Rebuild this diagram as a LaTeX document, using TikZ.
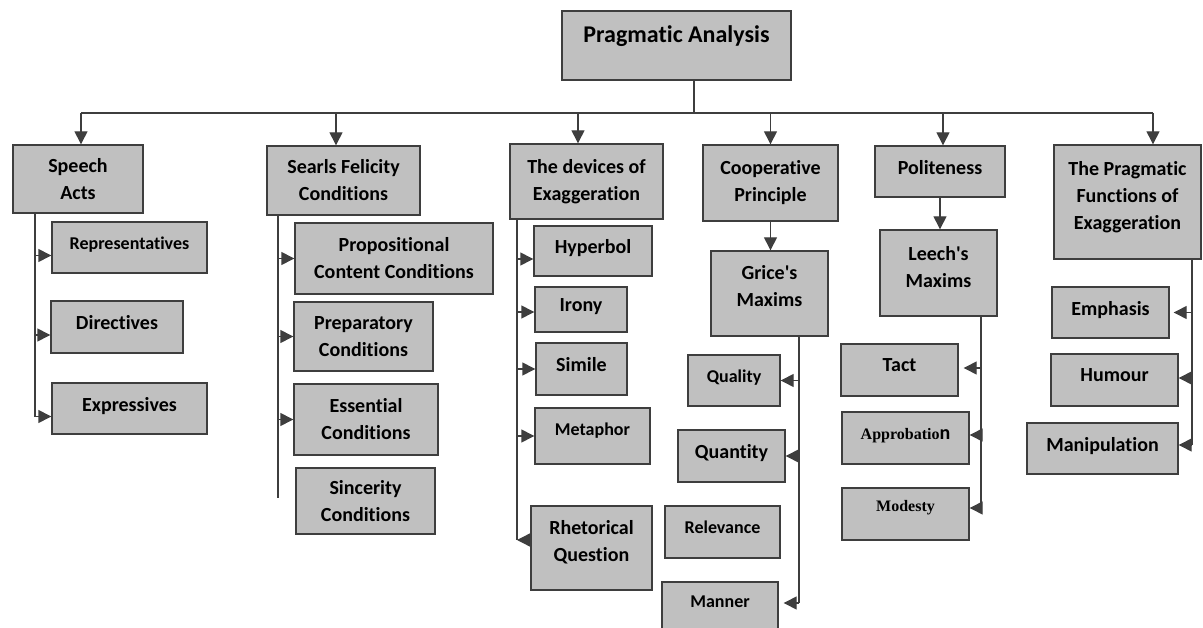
\documentclass[tikz,border=0pt]{standalone}
\usepackage{fontspec}
\setmainfont{Carlito}[Ligatures={TeXOff,NoCommon}]
\newfontfamily\serifbf{Liberation Serif}
\usetikzlibrary{arrows.meta}
\definecolor{boxgray}{RGB}{192,192,192}
\definecolor{linegray}{RGB}{62,62,62}

\begin{document}
\begin{tikzpicture}[x=1pt,y=-1pt,
    box/.style={draw=linegray, fill=boxgray, line width=1.4pt, align=center, inner sep=2pt,
      font=\bfseries\fontsize{20}{27}\selectfont},
    leaf/.style={box, text depth=9pt},
    small/.style={font=\bfseries\fontsize{18}{24}\selectfont},
    conn/.style={draw=linegray, line width=1.4pt},
    arr/.style={conn, -{Triangle[length=13pt,width=13pt]}}
  ]
  \useasboundingbox (0,0) rectangle (1203,628);

  % top
  \node[box, minimum width=229, minimum height=69, text depth=22pt,
    font=\bfseries\fontsize{24}{30}\selectfont] (root) at (676.5,45.5) {Pragmatic Analysis};

  % six branches
  \node[box, minimum width=130, minimum height=68] (sa) at (78,179) {Speech\\Acts};
  \node[box, minimum width=153, minimum height=69] (sf) at (343.5,180.5) {Searls Felicity\\Conditions};
  \node[box, minimum width=153, minimum height=75] (de) at (586.5,181.5) {The devices of\\Exaggeration};
  \node[box, minimum width=135, minimum height=76] (cp) at (770.5,183) {Cooperative\\Principle};
  \node[leaf, minimum width=130, minimum height=51] (pol) at (940,171.5) {Politeness};
  \node[box, minimum width=147, minimum height=114, text depth=13pt] (pf) at (1127.5,202)
    {The Pragmatic\\Functions of\\Exaggeration};

  % speech acts
  \node[leaf, small, minimum width=155, minimum height=51] (rep) at (129.5,247.5) {Representatives};
  \node[leaf, minimum width=132, minimum height=52] (dir) at (117,327) {Directives};
  \node[leaf, minimum width=155, minimum height=51] (exp) at (129.5,408.5) {Expressives};

  % felicity conditions
  \node[box, minimum width=198, minimum height=71] (pcc) at (394,258.5) {Propositional\\Content Conditions};
  \node[box, minimum width=139, minimum height=69] (prep) at (363.5,336.5) {Preparatory\\Conditions};
  \node[box, minimum width=144, minimum height=71] (ess) at (366,419.5) {Essential\\Conditions};
  \node[box, minimum width=139, minimum height=66] (sin) at (365.5,501) {Sincerity\\Conditions};

  % devices
  \node[leaf, minimum width=118, minimum height=50] (hyp) at (593,251) {Hyperbol};
  \node[leaf, minimum width=92, minimum height=45] (iro) at (581,309.5) {Irony};
  \node[leaf, minimum width=91, minimum height=52] (sim) at (581.5,369) {Simile};
  \node[leaf, small, minimum width=115, minimum height=56, text depth=13pt] (met) at (592.5,436) {Metaphor};
  \node[box, minimum width=121, minimum height=84, text depth=14pt] (rq) at (591.5,548) {Rhetorical\\Question};

  % grice
  \node[box, minimum width=117, minimum height=85, text depth=16pt] (gm) at (769.5,293.5) {Grice's\\Maxims};
  \node[leaf, small, minimum width=92, minimum height=51] (qual) at (734,380.5) {Quality};
  \node[leaf, minimum width=107, minimum height=52] (quan) at (731.5,456) {Quantity};
  \node[leaf, small, minimum width=115, minimum height=52] (rel) at (722.5,532) {Relevance};
  \node[leaf, small, minimum width=116, minimum height=48] (man) at (720,606) {Manner};

  % leech
  \node[box, minimum width=117, minimum height=86, text depth=13pt] (lm) at (938.5,273) {Leech's\\Maxims};
  \node[leaf, minimum width=117, minimum height=52] (tact) at (899.5,370) {Tact};
  \node[leaf, minimum width=127, minimum height=52] (app) at (905.5,438)
    {{\serifbf\fontsize{16}{20}\selectfont Approbatio}n};
  \node[leaf, minimum width=127, minimum height=52, text depth=16pt] (mod) at (905.5,514)
    {\serifbf\fontsize{16}{20}\selectfont Modesty};

  % functions
  \node[leaf, minimum width=117, minimum height=51] (emp) at (1110.5,312.5) {Emphasis};
  \node[leaf, minimum width=127, minimum height=52] (hum) at (1114.5,380) {Humour};
  \node[leaf, minimum width=151, minimum height=51] (mnp) at (1102.5,448.5) {Manipulation};

  % bus from the top box
  \coordinate (bus) at (694,113);
  \draw[conn] (root.south -| bus) -- (bus);
  \draw[conn] ([xshift=3pt]sa.north |- bus) -- ([xshift=25.5pt]pf.north |- bus);
  \foreach \n/\s in {sa/3,sf/-7.5,de/-8.5,cp/0,pol/3,pf/25.5}
    \draw[arr] ([xshift=\s pt]\n.north |- bus) -- ([xshift=\s pt]\n.north);

  % speech acts
  \coordinate (sabus) at (35,0);
  \draw[conn] (sa.south -| sabus) -- ([yshift=-8.5pt]exp.west -| sabus);
  \foreach \n in {rep,dir,exp}
    \draw[arr] ([yshift=-8pt]\n.west -| sabus) -- ([yshift=-8pt]\n.west);

  % felicity conditions
  \coordinate (sfbus) at (278,0);
  \draw[conn] (sf.south -| sfbus) -- ([yshift=3pt]sin.west -| sfbus);
  \foreach \n in {pcc,prep,ess}
    \draw[arr] (\n.west -| sfbus) -- (\n.west);

  % devices
  \coordinate (dvbus) at (517,0);
  \draw[conn] (de.south -| dvbus) -- ([yshift=8pt]rq.west -| dvbus);
  \foreach \n/\s in {hyp/-8,iro/-2.5,sim/0,met/0}
    \draw[arr] ([yshift=\s pt]\n.west -| dvbus) -- ([yshift=\s pt]\n.west);
  \draw[arr] ([yshift=8pt]rq.west) -- ([yshift=8pt]rq.west -| dvbus);

  % cooperative principle
  \draw[arr] (cp.south) -- (cp.south |- gm.north);
  \coordinate (gmbus) at (799,0);
  \draw[conn] (gm.south -| gmbus) -- ([yshift=3pt]man.east -| gmbus);
  \draw[arr] (qual.east -| gmbus) -- (qual.east);
  \draw[arr] (quan.east -| gmbus) -- (quan.east);
  \draw[arr] ([yshift=3pt]man.east -| gmbus) -- ([xshift=5pt,yshift=3pt]man.east);

  % politeness
  \draw[arr] (pol.south) -- (pol.south |- lm.north);
  \coordinate (lmbus) at (981,0);
  \draw[conn] (lm.south -| lmbus) -- ([yshift=6pt]mod.east -| lmbus);
  \draw[arr] ([yshift=2pt]tact.east -| lmbus) -- ([xshift=5pt,yshift=2pt]tact.east);
  \draw[arr] ([yshift=3pt]app.east -| lmbus) -- ([yshift=3pt]app.east);
  \draw[arr] ([yshift=6pt]mod.east -| lmbus) -- ([yshift=6pt]mod.east);

  % functions
  \coordinate (pfbus) at (1192,0);
  \draw[conn] (pf.south -| pfbus) -- ([yshift=3.5pt]mnp.east -| pfbus);
  \draw[arr] (emp.east -| pfbus) -- ([xshift=4pt]emp.east);
  \draw[arr] ([yshift=2pt]hum.east -| pfbus) -- ([yshift=2pt]hum.east);
  \draw[arr] ([yshift=3.5pt]mnp.east -| pfbus) -- ([yshift=3.5pt]mnp.east);
\end{tikzpicture}
\end{document}
